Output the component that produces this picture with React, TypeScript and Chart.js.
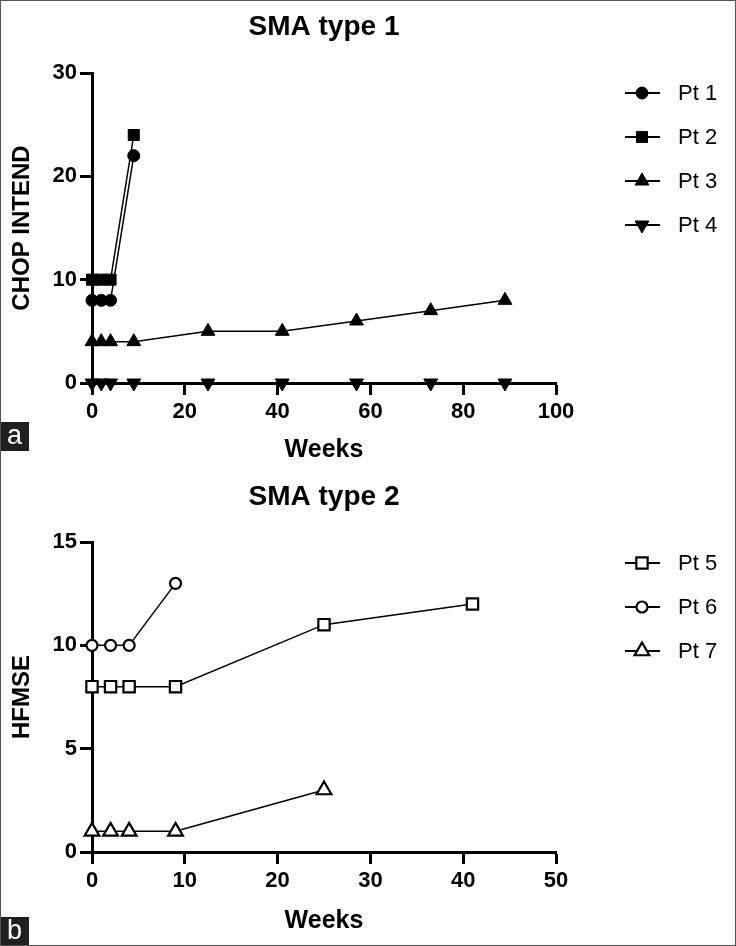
import React, { useEffect, useRef } from 'react';
import { Chart, registerables } from 'chart.js';
import { drawPoint } from 'chart.js/helpers';

Chart.register(...registerables);

const FONT = "'Liberation Sans', Arial, Helvetica, sans-serif";

// ---- Panel a: SMA type 1 (CHOP INTEND) ----
const weeksPt1 = [0, 2, 4, 9];
const valuesPt1 = [8, 8, 8, 22];
const weeksPt2 = [0, 2, 4, 9];
const valuesPt2 = [10, 10, 10, 24];
const weeksPt3 = [0, 2, 4, 9, 25, 41, 57, 73, 89];
const valuesPt3 = [4, 4, 4, 4, 5, 5, 6, 7, 8];
const weeksPt4 = [0, 2, 4, 9, 25, 41, 57, 73, 89];
const valuesPt4 = [0, 0, 0, 0, 0, 0, 0, 0, 0];

// ---- Panel b: SMA type 2 (HFMSE) ----
const weeksPt5 = [0, 2, 4, 9, 25, 41];
const valuesPt5 = [8, 8, 8, 8, 11, 12];
const weeksPt6 = [0, 2, 4, 9];
const valuesPt6 = [10, 10, 10, 13];
const weeksPt7 = [0, 2, 4, 9, 25];
const valuesPt7 = [1, 1, 1, 1, 3];

const xTicksA = [0, 20, 40, 60, 80, 100];
const yTicksA = [0, 10, 20, 30];
const xTicksB = [0, 10, 20, 30, 40, 50];
const yTicksB = [0, 5, 10, 15];

const titleA = 'SMA type 1';
const titleB = 'SMA type 2';
const yTitleA = 'CHOP INTEND';
const yTitleB = 'HFMSE';
const xTitle = 'Weeks';

const toPoints = (xs: number[], ys: number[]) => xs.map((x, i) => ({ x, y: ys[i] }));

const W = 736;
const HA = 470;
const HB = 476;

function series(label: string, xs: number[], ys: number[], style: any) {
  return {
    label,
    data: toPoints(xs, ys),
    showLine: true,
    borderColor: '#000',
    borderWidth: 1.5,
    tension: 0,
    clip: false,
    pointBorderColor: '#000',
    ...style,
  };
}

const legendPlugin = {
  id: 'customLegend',
  afterDraw(chart: any) {
    const ctx = chart.ctx;
    ctx.save();
    chart.data.datasets.forEach((ds: any, i: number) => {
      const y = 93 + i * 44;
      ctx.strokeStyle = '#000';
      ctx.lineWidth = 2;
      ctx.beginPath();
      ctx.moveTo(625, y);
      ctx.lineTo(660, y);
      ctx.stroke();
      ctx.fillStyle = ds.pointBackgroundColor;
      ctx.strokeStyle = '#000';
      ctx.lineWidth = ds.pointBorderWidth;
      drawPoint(ctx, {
        pointStyle: ds.pointStyle,
        rotation: ds.pointRotation || 0,
        radius: ds.pointRadius,
        borderWidth: ds.pointBorderWidth,
      } as any, 642, y);
      ctx.fillStyle = '#000';
      ctx.font = `22px ${FONT}`;
      ctx.textAlign = 'left';
      ctx.textBaseline = 'middle';
      ctx.fillText(ds.label, 678, y + 1);
    });
    ctx.restore();
  },
};

function makeConfig(opts: {
  title: string;
  yTitle: string;
  datasets: any[];
  xTicks: number[];
  yTicks: number[];
  height: number;
  plotTop: number;
  plotBottom: number;
  xTitlePad: number;
}): any {
  const { title, yTitle, datasets, xTicks, yTicks, height, plotTop, plotBottom, xTitlePad } = opts;
  const axisCommon = {
    type: 'linear',
    border: { display: true, color: '#000', width: 3 },
    grid: {
      display: true,
      drawOnChartArea: false,
      drawTicks: true,
      tickLength: 12,
      tickWidth: 3,
      tickColor: '#000',
      color: '#000',
    },
  };
  return {
    type: 'line',
    data: { datasets },
    options: {
      responsive: false,
      animation: false,
      devicePixelRatio: 1,
      layout: { padding: { left: 0, right: W - 556, top: 0, bottom: 0 } },
      plugins: {
        legend: { display: false },
        tooltip: { enabled: false },
        title: {
          display: true,
          text: title,
          color: '#000',
          fullSize: false,
          font: { family: FONT, size: 28, weight: 'bold', lineHeight: 1.2 },
          padding: { top: 10, bottom: plotTop - 10 - 33.6 },
        },
      },
      scales: {
        x: {
          ...axisCommon,
          position: 'bottom',
          min: xTicks[0],
          max: xTicks[xTicks.length - 1],
          afterBuildTicks: (s: any) => {
            s.ticks = xTicks.map((v) => ({ value: v }));
          },
          afterFit: (s: any) => {
            s.height = height - plotBottom;
          },
          ticks: {
            color: '#000',
            font: { family: FONT, size: 22, weight: 'bold' },
            padding: 4,
            maxRotation: 0,
            autoSkip: false,
          },
          title: {
            display: true,
            text: xTitle,
            color: '#000',
            font: { family: FONT, size: 25, weight: 'bold', lineHeight: 1.2 },
            padding: { top: 0, bottom: xTitlePad },
          },
        },
        y: {
          ...axisCommon,
          position: 'left',
          min: yTicks[0],
          max: yTicks[yTicks.length - 1],
          afterBuildTicks: (s: any) => {
            s.ticks = yTicks.map((v) => ({ value: v }));
          },
          afterFit: (s: any) => {
            s.width = 92;
          },
          ticks: {
            color: '#000',
            font: { family: FONT, size: 22, weight: 'bold' },
            padding: 3,
            autoSkip: false,
          },
          title: {
            display: true,
            text: yTitle,
            color: '#000',
            font: { family: FONT, size: 24, weight: 'bold', lineHeight: 1.2 },
            padding: { top: 8, bottom: 0 },
          },
        },
      },
    },
    plugins: [legendPlugin],
  };
}

export default function App() {
  const refA = useRef<HTMLCanvasElement>(null);
  const refB = useRef<HTMLCanvasElement>(null);

  useEffect(() => {
    const dsA = [
      series('Pt 1', weeksPt1, valuesPt1, {
        pointStyle: 'circle', pointRadius: 6, pointBorderWidth: 1, pointBackgroundColor: '#000',
      }),
      series('Pt 2', weeksPt2, valuesPt2, {
        pointStyle: 'rect', pointRadius: 7.8, pointBorderWidth: 1, pointBackgroundColor: '#000',
      }),
      series('Pt 3', weeksPt3, valuesPt3, {
        pointStyle: 'triangle', pointRadius: 8, pointBorderWidth: 1, pointBackgroundColor: '#000',
      }),
      series('Pt 4', weeksPt4, valuesPt4, {
        pointStyle: 'triangle', pointRotation: 180, pointRadius: 8, pointBorderWidth: 1, pointBackgroundColor: '#000',
      }),
    ];
    const dsB = [
      series('Pt 5', weeksPt5, valuesPt5, {
        pointStyle: 'rect', pointRadius: 8, pointBorderWidth: 2.2, pointBackgroundColor: '#fff',
      }),
      series('Pt 6', weeksPt6, valuesPt6, {
        pointStyle: 'circle', pointRadius: 5.5, pointBorderWidth: 2.2, pointBackgroundColor: '#fff',
      }),
      series('Pt 7', weeksPt7, valuesPt7, {
        pointStyle: 'triangle', pointRadius: 8.5, pointBorderWidth: 2.2, pointBackgroundColor: '#fff',
      }),
    ];
    const chartA = new Chart(
      refA.current as HTMLCanvasElement,
      makeConfig({
        title: titleA, yTitle: yTitleA, datasets: dsA, xTicks: xTicksA, yTicks: yTicksA,
        height: HA, plotTop: 73, plotBottom: 383, xTitlePad: 5,
      })
    );
    const chartB = new Chart(
      refB.current as HTMLCanvasElement,
      makeConfig({
        title: titleB, yTitle: yTitleB, datasets: dsB, xTicks: xTicksB, yTicks: yTicksB,
        height: HB, plotTop: 72, plotBottom: 382, xTitlePad: 10,
      })
    );
    return () => {
      chartA.destroy();
      chartB.destroy();
    };
  }, []);

  const tag = (top: number): React.CSSProperties => ({
    position: 'absolute',
    left: 0,
    top,
    width: 29,
    height: 29,
    background: '#231f20',
    color: '#fff',
    fontFamily: FONT,
    fontSize: 27,
    lineHeight: '26px',
    textAlign: 'center',
  });

  return (
    <div style={{ position: 'absolute', left: 0, top: 0, width: W, height: HA + HB, background: '#fff' }}>
      <canvas ref={refA} width={W} height={HA} style={{ position: 'absolute', left: 0, top: 0, width: W, height: HA }} />
      <canvas ref={refB} width={W} height={HB} style={{ position: 'absolute', left: 0, top: HA, width: W, height: HB }} />
      <div style={tag(422)}>a</div>
      <div style={tag(917)}>b</div>
      <div
        style={{
          position: 'absolute', left: 0, top: 0, width: W, height: HA + HB,
          boxSizing: 'border-box', border: '1px solid #555', pointerEvents: 'none',
        }}
      />
    </div>
  );
}
